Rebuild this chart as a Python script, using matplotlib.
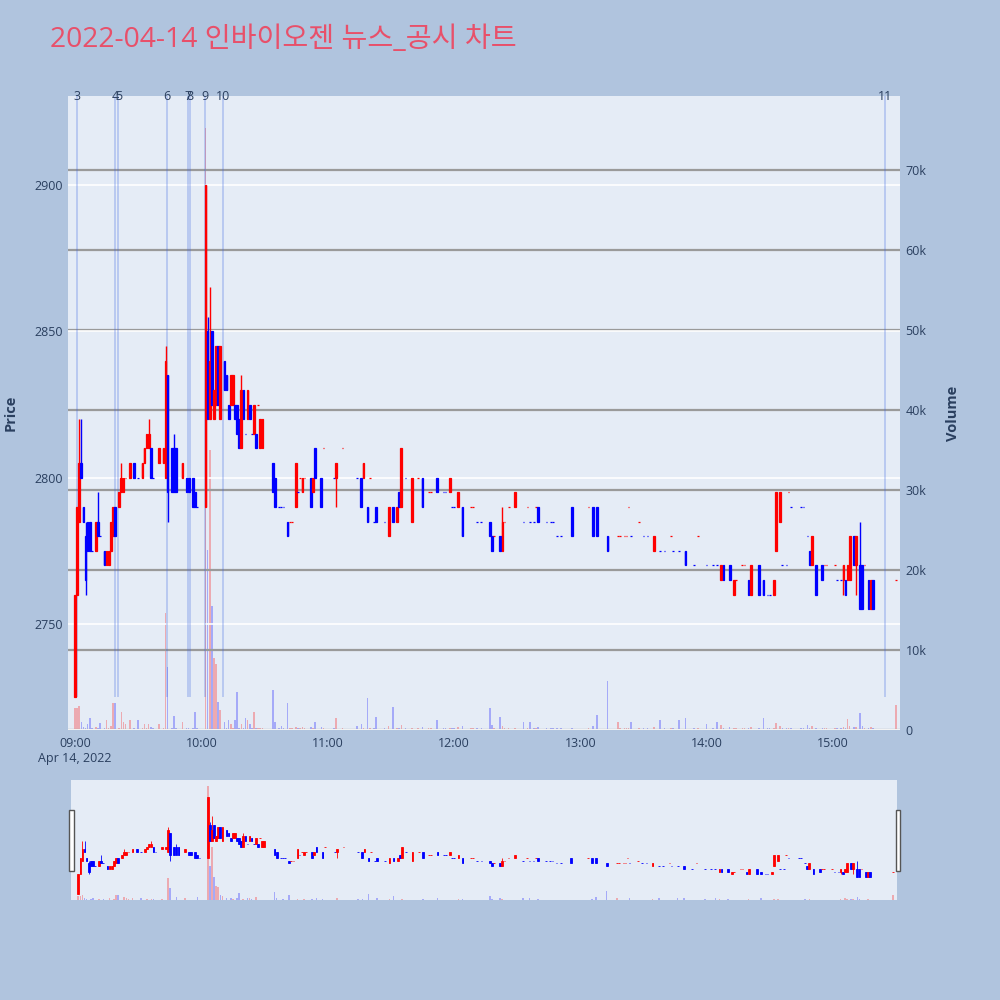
import matplotlib
matplotlib.use('Agg')
import matplotlib.pyplot as plt
import matplotlib.dates as mdates
import matplotlib.transforms as mtransforms
from matplotlib.patches import Rectangle
from matplotlib.ticker import FixedLocator, FuncFormatter
import pandas as pd

plt.rcParams['font.family'] = ['Open Sans', 'Noto Sans CJK KR', 'DejaVu Sans']

# 1-minute candles (only minutes with trades)
times = ['09:00', '09:01', '09:02', '09:03', '09:04', '09:05', '09:06', '09:07', '09:08', '09:10',
         '09:11', '09:12', '09:14', '09:15', '09:16', '09:17', '09:18', '09:19', '09:21', '09:22',
         '09:23', '09:24', '09:26', '09:28', '09:30', '09:32', '09:33', '09:34', '09:35', '09:36',
         '09:37', '09:40', '09:42', '09:43', '09:44', '09:46', '09:47', '09:48', '09:51', '09:53',
         '09:54', '09:56', '09:57', '09:58', '10:02', '10:03', '10:04', '10:05', '10:06', '10:07',
         '10:08', '10:09', '10:11', '10:12', '10:13', '10:14', '10:15', '10:16', '10:17', '10:18',
         '10:19', '10:20', '10:21', '10:22', '10:23', '10:24', '10:25', '10:26', '10:27', '10:28',
         '10:29', '10:34', '10:35', '10:37', '10:38', '10:39', '10:41', '10:42', '10:43', '10:45',
         '10:46', '10:47', '10:48', '10:49', '10:52', '10:53', '10:54', '10:57', '10:58', '11:03',
         '11:04', '11:07', '11:14', '11:16', '11:17', '11:19', '11:20', '11:22', '11:23', '11:27',
         '11:29', '11:31', '11:33', '11:34', '11:35', '11:37', '11:40', '11:43', '11:45', '11:48',
         '11:49', '11:52', '11:55', '11:56', '11:58', '11:59', '12:00', '12:02', '12:04', '12:08',
         '12:09', '12:11', '12:13', '12:17', '12:18', '12:19', '12:22', '12:23', '12:24', '12:26',
         '12:29', '12:33', '12:35', '12:36', '12:38', '12:39', '12:40', '12:44', '12:46', '12:47',
         '12:49', '12:51', '12:56', '13:04', '13:06', '13:08', '13:13', '13:18', '13:19', '13:21',
         '13:22', '13:23', '13:24', '13:28', '13:30', '13:32', '13:35', '13:38', '13:40', '13:43',
         '13:44', '13:47', '13:50', '13:54', '13:56', '14:00', '14:03', '14:05', '14:07', '14:08',
         '14:11', '14:13', '14:14', '14:17', '14:18', '14:20', '14:21', '14:25', '14:27', '14:29',
         '14:30', '14:32', '14:33', '14:35', '14:36', '14:38', '14:39', '14:40', '14:45', '14:46',
         '14:48', '14:49', '14:50', '14:52', '14:55', '14:56', '14:57', '15:01', '15:02', '15:04',
         '15:05', '15:06', '15:07', '15:08', '15:10', '15:11', '15:13', '15:14', '15:15', '15:17',
         '15:18', '15:19', '15:30']
opens = [2725, 2760, 2785, 2805, 2790, 2780, 2785, 2785, 2775, 2775,
         2785, 2780, 2775, 2770, 2770, 2775, 2780, 2790, 2790, 2795,
         2795, 2800, 2800, 2805, 2800, 2800, 2805, 2810, 2810, 2810,
         2800, 2805, 2805, 2800, 2835, 2810, 2810, 2810, 2800, 2800,
         2800, 2800, 2795, 2790, 2790, 2850, 2820, 2850, 2820, 2825,
         2845, 2820, 2840, 2835, 2825, 2825, 2825, 2825, 2825, 2820,
         2810, 2830, 2815, 2820, 2825, 2815, 2815, 2815, 2825, 2810,
         2810, 2805, 2800, 2790, 2790, 2790, 2785, 2785, 2785, 2790,
         2795, 2800, 2795, 2800, 2800, 2795, 2810, 2800, 2810, 2800,
         2800, 2810, 2800, 2800, 2800, 2790, 2800, 2785, 2790, 2785,
         2780, 2790, 2785, 2795, 2790, 2800, 2785, 2800, 2800, 2795,
         2795, 2800, 2795, 2795, 2795, 2790, 2790, 2790, 2790, 2790,
         2790, 2785, 2785, 2785, 2780, 2780, 2780, 2775, 2785, 2790,
         2790, 2785, 2790, 2785, 2785, 2790, 2790, 2785, 2785, 2785,
         2780, 2780, 2790, 2790, 2790, 2790, 2780, 2780, 2780, 2780,
         2780, 2790, 2780, 2785, 2780, 2780, 2775, 2775, 2775, 2780,
         2775, 2775, 2775, 2770, 2780, 2770, 2770, 2770, 2765, 2770,
         2770, 2760, 2765, 2770, 2770, 2765, 2760, 2770, 2765, 2760,
         2760, 2760, 2775, 2785, 2770, 2770, 2795, 2790, 2790, 2790,
         2780, 2775, 2770, 2770, 2770, 2770, 2770, 2770, 2765, 2765,
         2765, 2765, 2765, 2765, 2780, 2770, 2770, 2770, 2770, 2765,
         2755, 2765, 2765]
highs = [2760, 2790, 2820, 2820, 2790, 2785, 2785, 2785, 2775, 2785,
         2795, 2780, 2775, 2775, 2775, 2785, 2790, 2790, 2795, 2805,
         2800, 2800, 2805, 2805, 2800, 2805, 2810, 2815, 2820, 2810,
         2800, 2810, 2810, 2845, 2835, 2810, 2815, 2810, 2805, 2800,
         2800, 2800, 2795, 2790, 2900, 2855, 2865, 2850, 2830, 2845,
         2845, 2845, 2840, 2835, 2825, 2835, 2835, 2825, 2825, 2820,
         2835, 2830, 2815, 2830, 2825, 2815, 2825, 2815, 2825, 2820,
         2820, 2805, 2800, 2790, 2790, 2790, 2785, 2785, 2785, 2805,
         2795, 2800, 2800, 2800, 2800, 2800, 2810, 2800, 2810, 2800,
         2805, 2810, 2800, 2800, 2805, 2790, 2800, 2785, 2790, 2785,
         2790, 2790, 2790, 2795, 2810, 2800, 2800, 2800, 2800, 2795,
         2795, 2800, 2795, 2795, 2800, 2790, 2790, 2795, 2790, 2790,
         2790, 2785, 2785, 2785, 2780, 2780, 2780, 2790, 2785, 2790,
         2795, 2785, 2790, 2785, 2785, 2790, 2790, 2785, 2785, 2785,
         2780, 2780, 2790, 2790, 2790, 2790, 2780, 2780, 2780, 2780,
         2780, 2790, 2780, 2785, 2780, 2780, 2780, 2775, 2775, 2780,
         2775, 2775, 2775, 2770, 2780, 2770, 2770, 2770, 2770, 2770,
         2770, 2765, 2765, 2770, 2770, 2765, 2770, 2770, 2765, 2760,
         2760, 2765, 2795, 2795, 2770, 2770, 2795, 2790, 2790, 2790,
         2780, 2775, 2780, 2770, 2770, 2770, 2770, 2770, 2765, 2765,
         2770, 2765, 2770, 2780, 2780, 2780, 2785, 2770, 2770, 2765,
         2765, 2765, 2765]
lows = [2725, 2760, 2785, 2800, 2785, 2760, 2775, 2775, 2775, 2775,
        2780, 2780, 2770, 2770, 2770, 2775, 2780, 2780, 2790, 2795,
        2795, 2800, 2800, 2800, 2800, 2800, 2805, 2810, 2810, 2800,
        2800, 2805, 2805, 2800, 2785, 2795, 2795, 2795, 2800, 2795,
        2795, 2790, 2790, 2790, 2790, 2820, 2820, 2825, 2820, 2825,
        2825, 2820, 2830, 2830, 2820, 2825, 2825, 2820, 2815, 2810,
        2810, 2820, 2815, 2820, 2820, 2815, 2815, 2810, 2825, 2810,
        2810, 2795, 2790, 2790, 2790, 2790, 2780, 2785, 2785, 2790,
        2795, 2800, 2795, 2800, 2790, 2795, 2800, 2790, 2810, 2800,
        2790, 2810, 2800, 2790, 2800, 2785, 2800, 2785, 2785, 2785,
        2780, 2785, 2785, 2790, 2790, 2800, 2785, 2800, 2790, 2795,
        2795, 2795, 2795, 2795, 2795, 2790, 2790, 2790, 2780, 2790,
        2790, 2785, 2785, 2780, 2775, 2780, 2775, 2775, 2785, 2790,
        2790, 2785, 2790, 2785, 2785, 2790, 2785, 2785, 2785, 2785,
        2780, 2780, 2780, 2790, 2780, 2780, 2775, 2780, 2780, 2780,
        2780, 2790, 2780, 2785, 2780, 2780, 2775, 2775, 2775, 2780,
        2775, 2775, 2770, 2770, 2780, 2770, 2770, 2770, 2765, 2765,
        2765, 2760, 2765, 2770, 2770, 2760, 2760, 2760, 2760, 2760,
        2760, 2760, 2775, 2785, 2770, 2770, 2795, 2790, 2790, 2790,
        2780, 2770, 2770, 2760, 2765, 2770, 2770, 2770, 2765, 2765,
        2760, 2760, 2765, 2765, 2770, 2760, 2755, 2755, 2770, 2755,
        2755, 2755, 2765]
closes = [2760, 2790, 2805, 2800, 2785, 2765, 2775, 2775, 2775, 2785,
          2780, 2780, 2770, 2775, 2775, 2785, 2790, 2780, 2795, 2800,
          2800, 2800, 2805, 2800, 2800, 2805, 2810, 2815, 2815, 2800,
          2800, 2810, 2810, 2840, 2795, 2795, 2795, 2795, 2805, 2795,
          2795, 2790, 2790, 2790, 2900, 2820, 2840, 2825, 2830, 2845,
          2825, 2845, 2830, 2830, 2820, 2835, 2835, 2820, 2815, 2810,
          2830, 2820, 2815, 2830, 2820, 2815, 2825, 2810, 2825, 2820,
          2820, 2795, 2790, 2790, 2790, 2790, 2780, 2785, 2785, 2805,
          2795, 2800, 2800, 2800, 2790, 2800, 2800, 2790, 2810, 2800,
          2805, 2810, 2800, 2790, 2805, 2785, 2800, 2785, 2785, 2785,
          2790, 2785, 2790, 2790, 2810, 2800, 2800, 2800, 2790, 2795,
          2795, 2795, 2795, 2795, 2800, 2790, 2790, 2795, 2780, 2790,
          2790, 2785, 2785, 2780, 2775, 2780, 2775, 2785, 2785, 2790,
          2795, 2785, 2790, 2785, 2785, 2790, 2785, 2785, 2785, 2785,
          2780, 2780, 2780, 2790, 2780, 2780, 2775, 2780, 2780, 2780,
          2780, 2790, 2780, 2785, 2780, 2780, 2780, 2775, 2775, 2780,
          2775, 2775, 2770, 2770, 2780, 2770, 2770, 2770, 2770, 2765,
          2765, 2765, 2765, 2770, 2770, 2760, 2770, 2760, 2760, 2760,
          2760, 2765, 2795, 2795, 2770, 2770, 2795, 2790, 2790, 2790,
          2780, 2770, 2780, 2760, 2765, 2770, 2770, 2770, 2765, 2765,
          2770, 2760, 2770, 2780, 2770, 2780, 2755, 2755, 2770, 2755,
          2765, 2755, 2765]
volumes = [2800, 2800, 3000, 1000, 400, 300, 700, 1500, 300, 400,
           300, 900, 300, 1200, 300, 500, 3400, 3400, 300, 2200,
           1000, 800, 1300, 300, 1300, 300, 700, 300, 800, 400,
           300, 700, 300, 14600, 7900, 300, 1800, 300, 1000, 300,
           300, 300, 2300, 300, 75300, 22500, 35000, 15500, 9000, 8300,
           3500, 2500, 1000, 300, 1300, 700, 300, 1300, 4700, 300,
           700, 300, 1500, 1200, 800, 300, 2300, 300, 300, 300,
           300, 5000, 1000, 300, 500, 300, 3400, 300, 300, 400,
           200, 200, 400, 200, 400, 300, 1000, 400, 300, 300,
           1500, 200, 500, 800, 300, 4000, 200, 300, 1600, 200,
           500, 2900, 300, 300, 600, 200, 300, 200, 400, 200,
           200, 1200, 200, 200, 300, 300, 200, 400, 500, 200,
           200, 200, 200, 2800, 600, 200, 1600, 500, 200, 200,
           300, 1000, 200, 1000, 200, 200, 400, 200, 200, 200,
           200, 200, 300, 200, 500, 1900, 6100, 1000, 200, 200,
           200, 200, 1000, 200, 200, 200, 400, 1200, 200, 200,
           200, 1200, 1500, 200, 200, 800, 200, 1000, 600, 300,
           400, 300, 200, 200, 200, 300, 400, 300, 1500, 200,
           200, 300, 900, 500, 200, 200, 200, 200, 200, 200,
           600, 300, 500, 300, 300, 200, 200, 200, 200, 200,
           400, 300, 1400, 500, 400, 400, 2100, 500, 200, 300,
           400, 300, 3100]

# news / disclosure markers
news_times = ['09:01:10', '09:19:00', '09:20:35', '09:43:50', '09:53:40',
              '09:54:30', '10:01:55', '10:10:30', '15:24:50']
news_labels = ['3', '4', '5', '6', '7', '8', '9', '10', '11']

DAY = '2022-04-14 '
x = mdates.date2num(pd.to_datetime([DAY + t for t in times]))
news_x = mdates.date2num(pd.to_datetime([DAY + t for t in news_times]))
one_min = 1.0 / 1440

# plotly-like direction: equal open/close follows previous close
colors = []
prev_c, prev_up = None, True
for o, c in zip(opens, closes):
    if c > o:
        up = True
    elif c < o:
        up = False
    elif prev_c is not None and c != prev_c:
        up = c > prev_c
    else:
        up = prev_up
    colors.append('red' if up else 'blue')
    prev_c, prev_up = c, up

BG = '#e5ecf6'
FONT_C = '#2a3f5f'
x0 = mdates.date2num(pd.Timestamp(DAY + '09:00')) - 3.33 * one_min
x1 = mdates.date2num(pd.Timestamp(DAY + '09:00')) + 391.9 * one_min
PRICE_LIM = (2713.8, 2930.4)
VOL_LIM = (0, 79300)


def draw_candles(ax, wick_lw, edge_lw):
    bottoms = [min(o, c) for o, c in zip(opens, closes)]
    heights = [abs(c - o) for o, c in zip(opens, closes)]
    ax.vlines(x, lows, highs, colors=colors, lw=wick_lw, zorder=3)
    ax.bar(x, heights, bottom=bottoms, width=0.8 * one_min, color=colors,
           edgecolor=colors, linewidth=edge_lw, zorder=4)


fig = plt.figure(figsize=(10, 10), dpi=100)
fig.patch.set_facecolor('#b0c4de')

# ---- main chart
ax = fig.add_axes([0.068, 0.27, 0.832, 0.634])
axv = ax.twinx()
ax.set_zorder(axv.get_zorder() + 1)
ax.patch.set_visible(False)
axv.patch.set_visible(True)
axv.patch.set_facecolor(BG)

axv.bar(x, volumes, width=0.75 * one_min, color=colors, alpha=0.28, linewidth=0)
axv.set_ylim(*VOL_LIM)
axv.set_yticks(range(0, 80000, 10000))
axv.yaxis.set_major_formatter(FuncFormatter(lambda v, p: '0' if v == 0 else '%dk' % (v / 1000)))
axv.grid(True, axis='y', color='#9a9a9a', lw=1.6)
axv.axhline(0, color='white', lw=2)
axv.set_ylabel('Volume', color=FONT_C, fontsize=10.5, fontweight='bold', labelpad=14)

draw_candles(ax, 1.0, 0.9)
ax.vlines(news_x, 2725, PRICE_LIM[1], colors='royalblue', alpha=0.32, lw=1.2, zorder=2)
trans = mtransforms.blended_transform_factory(ax.transData, ax.transAxes)
for nx, lab in zip(news_x, news_labels):
    ax.text(nx, 1.0, lab, transform=trans, ha='center', va='center',
            fontsize=9, color=FONT_C, zorder=6)

ax.set_ylim(*PRICE_LIM)
ax.set_xlim(x0, x1)
ax.set_yticks([2750, 2800, 2850, 2900])
ax.grid(True, axis='y', color='white', lw=1.2)
ax.set_axisbelow(True)
ax.set_ylabel('Price', color=FONT_C, fontsize=10.5, fontweight='bold', labelpad=12)

hours = ['09:00', '10:00', '11:00', '12:00', '13:00', '14:00', '15:00']
ax.xaxis.set_major_locator(FixedLocator(mdates.date2num(pd.to_datetime([DAY + h for h in hours]))))
ax.set_xticklabels([hours[0] + '\nApr 14, 2022'] + hours[1:])

for a in (ax, axv):
    for s in a.spines.values():
        s.set_visible(False)
    a.tick_params(length=0, labelsize=9, colors=FONT_C)
ax.tick_params(axis='x', pad=5)
ax.tick_params(axis='y', pad=4)
axv.tick_params(axis='y', pad=4)

# ---- range slider
sl = fig.add_axes([0.0713, 0.10, 0.8255, 0.12])
slv = sl.twinx()
sl.set_zorder(slv.get_zorder() + 1)
sl.patch.set_visible(False)
slv.patch.set_visible(True)
slv.patch.set_facecolor(BG)
slv.bar(x, volumes, width=0.75 * one_min, color=colors, alpha=0.28, linewidth=0)
slv.set_ylim(*VOL_LIM)
draw_candles(sl, 0.6, 0.6)
sl.set_ylim(*PRICE_LIM)
sl.set_xlim(x0, x1)
for a in (sl, slv):
    a.set_xticks([])
    a.set_yticks([])
    for s in a.spines.values():
        s.set_visible(False)

for hx in (0.0690, 0.8955):
    fig.patches.append(Rectangle((hx, 0.129), 0.0046, 0.061, transform=fig.transFigure,
                                 facecolor='white', edgecolor='#555555', lw=1, zorder=10))

fig.text(0.05, 0.96, '2022-04-14 인바이오젠 뉴스_공시 차트', fontsize=20.3,
         color='#e8506a', ha='left', va='center')

fig.savefig('out.png', dpi=100, facecolor=fig.get_facecolor())
